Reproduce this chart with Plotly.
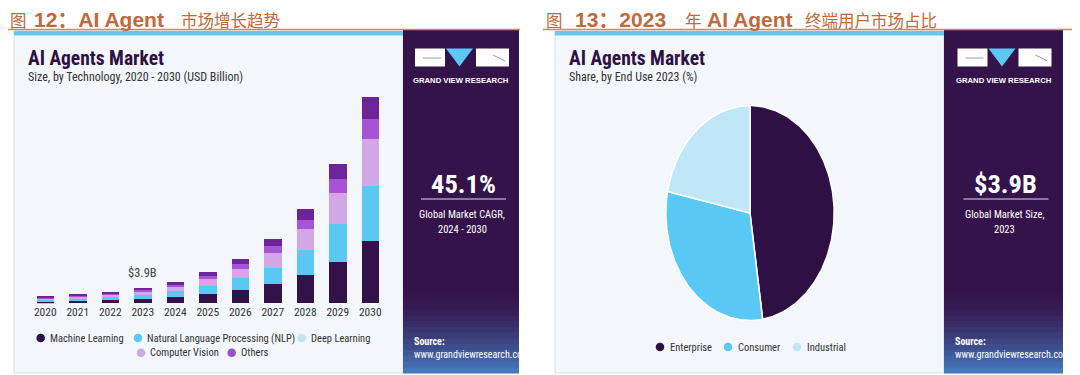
import numpy as np
import plotly.graph_objects as go

# ---------------- data ----------------
years = [2020, 2021, 2022, 2023, 2024, 2025, 2026, 2027, 2028, 2029, 2030]
year_labels = ["2020", "2021", "2022", "2023", "2024", "2025", "2026", "2027", "2028", "2029", "2030"]
machine_learning = [0.40, 0.60, 0.75, 1.00, 1.50, 2.25, 3.25, 4.75, 7.00, 10.40, 15.60]
nlp = [0.45, 0.60, 0.80, 1.10, 1.50, 2.10, 3.00, 4.15, 6.30, 9.35, 13.80]
deep_learning = [0.35, 0.45, 0.60, 0.75, 1.00, 1.70, 2.30, 3.60, 5.25, 7.75, 11.75]
computer_vision = [0.20, 0.25, 0.30, 0.45, 0.60, 0.75, 1.20, 1.80, 2.40, 3.50, 4.85]
others = [0.25, 0.35, 0.45, 0.60, 0.80, 1.00, 1.30, 1.75, 2.60, 3.75, 5.50]
tech_names = ["Machine Learning", "Natural Language Processing (NLP)", "Deep Learning",
              "Computer Vision", "Others"]

end_use = ["Enterprise", "Consumer", "Industrial"]
end_use_share = [47.6, 30.6, 21.8]

market_2023_label = "$3.9B"
cagr_label = "45.1%"
size_label = "$3.9B"

# ---------------- styling ----------------
OFF = 8  # page body margin of the rendered html
W, H = 1080 - OFF, 375 - OFF
FONT = "Liberation Sans Narrow, Roboto Condensed, Roboto, Arial, sans-serif"
LAT = "Liberation Sans, Arial, Noto Sans CJK SC, sans-serif"
CJK = "Noto Sans CJK SC, sans-serif"
DARK = "#34134a"
BAR_COLORS = ["#33124a", "#5bc8f2", "#d2a7e6", "#a653d6", "#6e2499"]
LEG_COLORS = ["#2e1045", "#5bc8f2", "#bfe6f8", "#d2a7e6", "#9b4fd0"]
PIE_COLORS = ["#2e1045", "#5ac8f5", "#bfe7f8"]
HEAD = "#c0693a"


def X(px):
    return (px - OFF) / W


def Y(py):
    return 1 - (py - OFF) / H


fig = go.Figure()

# ---------------- stacked bars ----------------
series = [machine_learning, nlp, deep_learning, computer_vision, others]
for name, vals, col in zip(tech_names, series, BAR_COLORS):
    fig.add_trace(go.Bar(x=years, y=vals, name=name, width=0.54,
                         marker=dict(color=col, line=dict(width=0)),
                         showlegend=False, xaxis="x", yaxis="y"))

base_px, top_px = 303.3, 95.0
ymax = (base_px - top_px) * 0.25

# ---------------- pie drawn as elliptical slices ----------------
start = 0.0
total = sum(end_use_share)
for name, share, col in zip(end_use, end_use_share, PIE_COLORS):
    a0 = start / total * 2 * np.pi
    a1 = (start + share) / total * 2 * np.pi
    t = np.linspace(a0, a1, 120)
    xs = np.concatenate([[0], np.sin(t), [0]])
    ys = np.concatenate([[0], np.cos(t), [0]])
    fig.add_trace(go.Scatter(x=xs, y=ys, mode="lines", fill="toself", fillcolor=col,
                             line=dict(color="white", width=1.5), name=name,
                             showlegend=False, xaxis="x2", yaxis="y2", hoverinfo="name"))
    start += share

shapes = []
annotations = []


def rect(x0, y0, x1, y1, fill, line=None, lw=0):
    shapes.append(dict(type="rect", xref="paper", yref="paper", x0=X(x0), x1=X(x1), y0=Y(y1), y1=Y(y0),
                       fillcolor=fill, line=dict(color=line or fill, width=lw), layer="below"))


def hline(x0, x1, y, color, width=1):
    shapes.append(dict(type="line", xref="paper", yref="paper", x0=X(x0), x1=X(x1), y0=Y(y), y1=Y(y),
                       line=dict(color=color, width=width), layer="above"))


def text(x, y, s, size, color, xanchor="left", family=FONT):
    annotations.append(dict(xref="paper", yref="paper", x=X(x), y=Y(y), text=s, showarrow=False,
                            xanchor=xanchor, yanchor="middle", borderpad=0,
                            font=dict(size=size, color=color, family=family)))


def dot(x, y, color, r=4.3):
    shapes.append(dict(type="circle", xref="paper", yref="paper", x0=X(x - r), x1=X(x + r),
                       y0=Y(y + r), y1=Y(y - r), fillcolor=color, line=dict(width=0), layer="above"))


def panel(cx0, cx1, px1, big, sub1, sub2, title, subtitle):
    rect(cx0, 31, cx1, 373, "#f3f6fa", "#d9dde3", 1)
    rect(cx0, 31, cx1, 35.5, "#66c9f2")
    rect(cx1, 30, px1, 373, DARK)
    c0 = np.array([0x34, 0x13, 0x4a])
    c1 = np.array([0x45, 0x78, 0xbc])
    n = 14
    for i in range(n):
        f = (i + 1) / n
        c = (c0 + (c1 - c0) * f ** 1.6).astype(int)
        y0 = 292 + i * (373 - 292) / n
        y1 = 292 + (i + 1) * (373 - 292) / n
        rect(cx1, y0, px1, y1 + 0.5, "#%02x%02x%02x" % tuple(c))
    cx = (cx1 + px1) / 2
    lx = cx - 46
    rect(lx, 48.5, lx + 30, 66.5, "white")
    rect(lx + 61, 48.5, lx + 94, 66.5, "white")
    shapes.append(dict(type="path", xref="paper", yref="paper",
                       path="M %f %f L %f %f L %f %f Z" % (X(lx + 31), Y(48.5), X(lx + 58), Y(48.5),
                                                          X(lx + 44.5), Y(66.5)),
                       fillcolor="#5bc8f2", line=dict(width=0), layer="above"))
    hline(lx + 8, lx + 26, 58, "#9a9aa6", 1)
    shapes.append(dict(type="line", xref="paper", yref="paper", x0=X(lx + 78), y0=Y(55), x1=X(lx + 90),
                       y1=Y(61), line=dict(color="#9a9aa6", width=1)))
    text(cx, 80, "<b>GRAND VIEW RESEARCH</b>", 7.7, "white", "center", LAT)
    text(cx + 2, 183, "<b>%s</b>" % big, 26.5, "white", "center")
    hline(cx - 40, cx + 45, 199, "rgba(255,255,255,0.85)", 1)
    text(cx + 1, 214, sub1, 10.5, "white", "center")
    text(cx + 1, 229, sub2, 10.5, "white", "center")
    text(cx1 + 10, 341, "<b>Source:</b>", 10, "white")
    text(cx1 + 10, 354, "www.grandviewresearch.com", 10, "white")
    text(cx0 + 13, 58, "<b>%s</b>" % title, 19.5, "#2e1045")
    text(cx0 + 13, 77, subtitle, 12, "#333333")


panel(14, 403, 519, cagr_label, "Global Market CAGR,", "2024 - 2030",
      "AI Agents Market", "Size, by Technology, 2020 - 2030 (USD Billion)")
panel(555, 944, 1063, size_label, "Global Market Size,", "2023",
      "AI Agents Market", "Share, by End Use 2023 (%)")

# headers: Latin parts bold and larger, Chinese parts regular
HY = 19.5
head_parts = [
    (OFF + 1, "图", False), (33, "12：AI Agent", True), (180, "市场增长趋势", False),
    (545, "图", False), (574, "13：2023", True), (684, "年", False),
    (706, "AI Agent", True), (804, "终端用户市场占比", False),
]
for hx, s, bold in head_parts:
    if bold:
        text(hx, HY, "<b>%s</b>" % s, 21, HEAD, "left", LAT)
    else:
        text(hx, HY + 0.5, s, 16.5, HEAD, "left", CJK)
hline(OFF, 520, 29.5, "#c98a63", 1.5)
hline(543, 1076, 29.5, "#c98a63", 1.5)

# bar legend
leg_pos = [(40.7, 338), (138, 338), (301.7, 338), (141, 352.7), (231.7, 352.7)]
for name, col, (mx, my) in zip(tech_names, LEG_COLORS, leg_pos):
    dot(mx, my, col)
    text(mx + 8, my, name, 10.5, "#333333")

# pie legend
pie_leg = [660, 728, 797]
for name, col, mx in zip(end_use, PIE_COLORS, pie_leg):
    dot(mx, 347, col)
    text(mx + 8.5, 347, name, 10.5, "#333333")

# total label above 2023 bar
i23 = years.index(2023)
annotations.append(dict(x=years[i23], y=sum(s[i23] for s in series), xref="x", yref="y",
                        text=market_2023_label, showarrow=False, yanchor="bottom", yshift=6,
                        font=dict(size=12.5, color="#444444", family=FONT)))

fig.update_layout(
    width=W, height=H, margin=dict(l=0, r=0, t=0, b=0, autoexpand=False),
    paper_bgcolor="white", plot_bgcolor="rgba(0,0,0,0)",
    barmode="stack",
    xaxis=dict(domain=[X(29.05), X(386.55)], type="linear", range=[2019.5, 2030.5],
               tickmode="array", tickvals=years, ticktext=year_labels,
               showgrid=False, showline=False, zeroline=False, ticks="", automargin=False,
               tickfont=dict(size=11.5, color="#333333", family=FONT), anchor="y"),
    yaxis=dict(domain=[Y(base_px), Y(top_px)], range=[0, ymax], visible=False, anchor="x",
               automargin=False),
    xaxis2=dict(domain=[X(665), X(835)], range=[-1.01, 1.01], visible=False, anchor="y2",
                automargin=False),
    yaxis2=dict(domain=[Y(321.5), Y(104.5)], range=[-1.01, 1.01], visible=False, anchor="x2",
                automargin=False),
    shapes=shapes, annotations=annotations, showlegend=False,
    font=dict(family=FONT),
)

fig.write_html("out.html")
